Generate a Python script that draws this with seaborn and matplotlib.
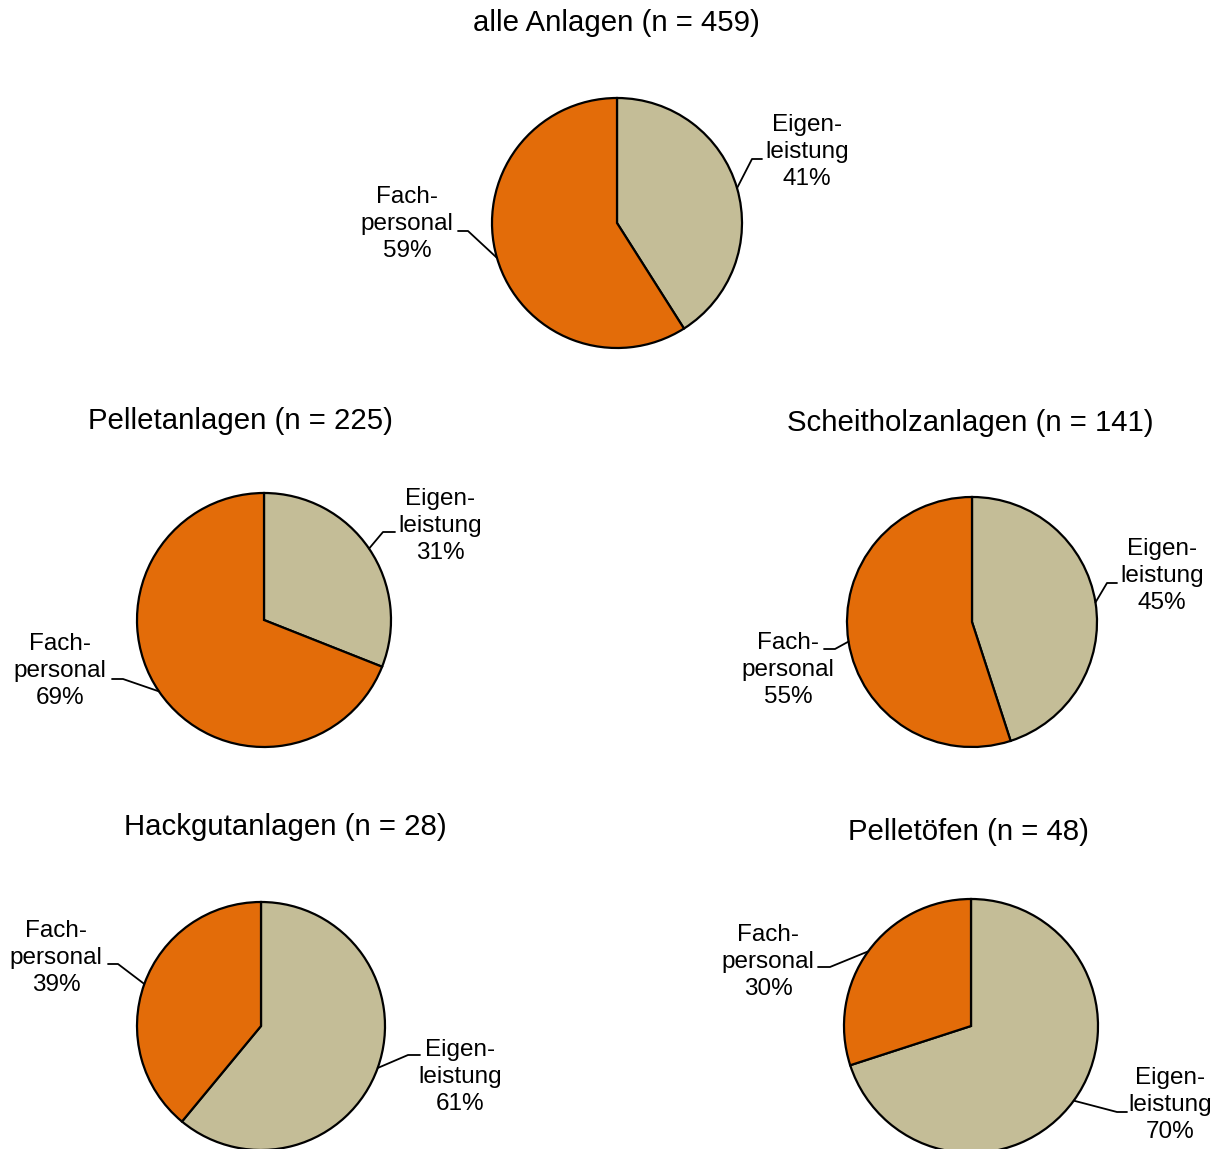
import numpy as np
import matplotlib
matplotlib.use("Agg")
import matplotlib.pyplot as plt
import seaborn as sns

# data
groups = ["alle Anlagen", "Pelletanlagen", "Scheitholzanlagen", "Hackgutanlagen", "Pelletöfen"]
n_values = [459, 225, 141, 28, 48]
eigen_pct = [41, 31, 45, 61, 70]
fach_pct = [59, 69, 55, 39, 30]
slice_names = ["Eigen-\nleistung", "Fach-\npersonal"]
colors = ["#C4BD97", "#E36C09"]

sns.set_theme(style="white")
plt.rcParams['font.family'] = ['Liberation Sans', 'DejaVu Sans']
plt.rcParams['text.color'] = 'black'

W, H = 1223, 1149
fig = plt.figure(figsize=(W / 100, H / 100), dpi=100)

# layout in pixels: pie centre, radius, title position
pie_layout = [
    ((617, 223), 125, (616, 23)),
    ((264, 620), 127, (241, 421)),
    ((972, 622), 125, (970, 423)),
    ((261, 1026), 124, (285, 827)),
    ((971, 1026), 127, (968, 832)),
]
# label layout in pixels per slice (Eigen, Fach): text centre, elbow, end of horizontal
label_layout = [
    [((807, 152), (752, 159), (762, 159)), ((407, 224), (468, 231), (458, 231))],
    [((440, 526), (383, 532), (395, 532)), ((60, 671), (123, 679), (112, 679))],
    [((1162, 576), (1107, 583), (1117, 583)), ((788, 670), (835, 649), (824, 649))],
    [((460, 1077), (408, 1055), (420, 1055)), ((56, 958), (118, 964), (108, 964))],
    [((1170, 1105), (1117, 1112), (1127, 1112)), ((768, 962), (830, 967), (818, 967))],
]

PAD = 1.05
for i, grp in enumerate(groups):
    (cx, cy), r, (tx, ty) = pie_layout[i]
    R = PAD * r
    ax = fig.add_axes([(cx - R) / W, 1 - (cy + R) / H, 2 * R / W, 2 * R / H])
    wedges, _ = ax.pie([eigen_pct[i], fach_pct[i]], colors=colors, startangle=90,
                       counterclock=False, radius=1,
                       wedgeprops=dict(edgecolor="black", linewidth=1.6))
    ax.set_xlim(-PAD, PAD)
    ax.set_ylim(-PAD, PAD)
    ax.set_aspect("auto")
    ax.axis("off")

    def to_data(p):
        return ((p[0] - cx) / r, -(p[1] - cy) / r)

    pcts = [eigen_pct[i], fach_pct[i]]
    for j, w in enumerate(wedges):
        mid = np.deg2rad((w.theta1 + w.theta2) / 2)
        ex, ey = np.cos(mid), np.sin(mid)
        tpos, elbow, hend = [to_data(p) for p in label_layout[i][j]]
        ax.plot([ex, elbow[0], hend[0]], [ey, elbow[1], hend[1]],
                color="black", lw=1.3, clip_on=False)
        ax.text(tpos[0], tpos[1], f"{slice_names[j]}\n{pcts[j]}%", ha="center",
                va="center", multialignment="center", fontsize=17.5,
                linespacing=1.3, color="black", clip_on=False)

    fig.text(tx / W, 1 - ty / H, f"{grp} (n = {n_values[i]})", ha="center",
             va="center", fontsize=21.2, color="black")

fig.savefig("out.png", dpi=100)
